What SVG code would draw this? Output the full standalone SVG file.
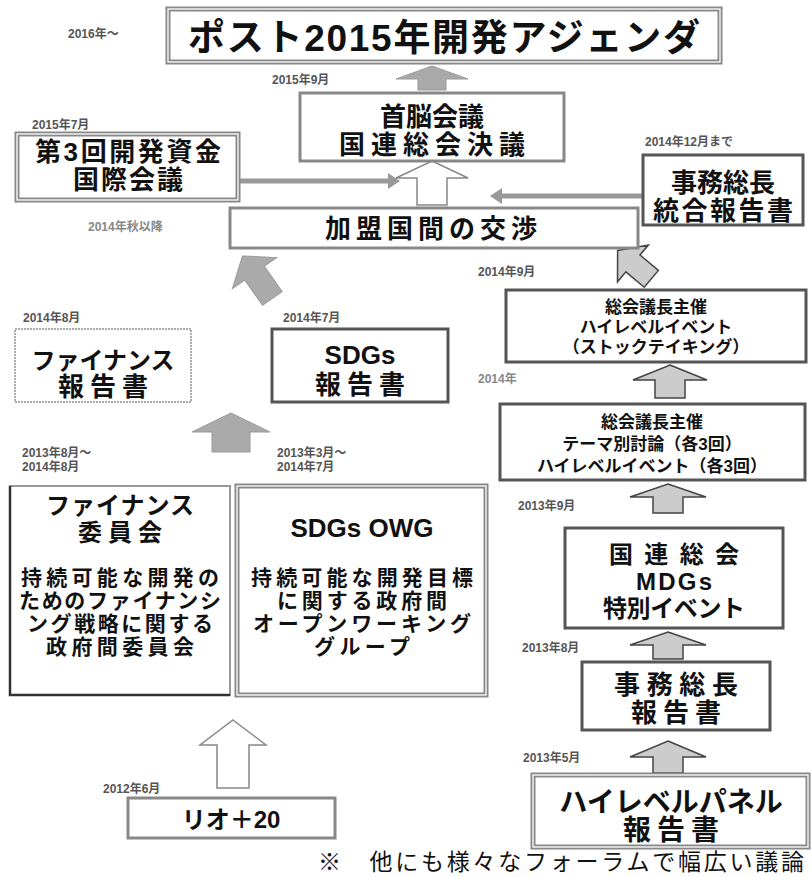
<svg xmlns="http://www.w3.org/2000/svg" width="812" height="877" viewBox="0 0 812 877">
<style>
text{font-family:"Liberation Sans","Noto Sans CJK JP",sans-serif;font-weight:bold;fill:#111;text-anchor:middle}
.d{font-size:12px;fill:#555;text-anchor:start}
.dl{font-size:12px;fill:#888;text-anchor:start}
.bx{fill:#fff;stroke:#555;stroke-width:3}
.bxg{fill:#fff;stroke:#888;stroke-width:3}
.dbl{fill:#fff;stroke:#888;stroke-width:5}
.in{fill:none;stroke:#fff;stroke-width:1.3}
.lt{fill:#fff;stroke:#aaa;stroke-width:2;stroke-dasharray:2 1}
.ga{fill:#aaa;stroke:#999;stroke-width:1}
.ra{fill:#ccc;stroke:#444;stroke-width:1.5}
.wa{fill:#fff;stroke:#888;stroke-width:1.5}
.t26{font-size:26px}
.t24{font-size:24px}
.t21{font-size:21px}
.t17{font-size:17px}
</style>
<g id="connectors">
<polygon class="ga" points="432,66 468,79 446,79 446,90 418,90 418,79 396,79"/>
<polygon class="wa" points="432,161 468,178 447,178 447,205 417,205 417,178 396,178"/>
<line x1="238" y1="181" x2="390" y2="181" stroke="#999" stroke-width="5"/>
<polygon points="400,181 388,173 388,189" fill="#999"/>
<line x1="643" y1="196" x2="500" y2="196" stroke="#999" stroke-width="5"/>
<polygon points="490,196 502,188 502,204" fill="#999"/>
<polygon class="ga" transform="translate(258,278) rotate(-35)" points="0,-27 27,-6 12,-6 12,25 -12,25 -12,-6 -27,-6"/>
<polygon class="ra" transform="translate(636,266) rotate(-50)" points="0,-24 24,-4 11,-4 11,20 -11,20 -11,-4 -24,-4"/>
<polygon class="ra" points="670,365 707,380 685,380 685,398 655,398 655,380 633,380"/>
<polygon class="ra" points="668,484 706,497 683,497 683,513 653,513 653,497 630,497"/>
<polygon class="ra" points="668,632 706,645 683,645 683,659 653,659 653,645 630,645"/>
<polygon class="ra" points="668,741 706,757 683,757 683,773 653,773 653,757 630,757"/>
<polygon class="ga" points="231,413 270,432 250,432 250,452 212,452 212,432 192,432"/>
<polygon class="wa" points="233,720 266,745 249,745 249,788 217,788 217,745 200,745"/>
</g>
<g id="labels">
<text class="d" x="68" y="38">2016年～</text>
<text class="d" x="272" y="84">2015年9月</text>
<text class="d" x="32" y="129">2015年7月</text>
<text class="d" x="645" y="146">2014年12月まで</text>
<text class="dl" x="88" y="231">2014年秋以降</text>
<text class="d" x="478" y="276">2014年9月</text>
<text class="d" x="23" y="322">2014年8月</text>
<text class="d" x="283" y="322">2014年7月</text>
<text class="dl" x="478" y="383">2014年</text>
<text class="d" x="22" y="457">2013年8月～</text>
<text class="d" x="22" y="471">2014年8月</text>
<text class="d" x="277" y="457">2013年3月～</text>
<text class="d" x="277" y="471">2014年7月</text>
<text class="d" x="518" y="510">2013年9月</text>
<text class="d" x="522" y="652">2013年8月</text>
<text class="d" x="523" y="762">2013年5月</text>
<text class="d" x="103" y="793">2012年6月</text>
<text x="318" y="870" style="font-size:23px;font-weight:normal;text-anchor:start" textLength="486" lengthAdjust="spacing">※　他にも様々なフォーラムで幅広い議論</text>
</g>
<g id="post2015">
<rect class="dbl" x="168" y="9" width="552" height="53"/>
<rect class="in" x="168" y="9" width="552" height="53"/>
<text x="444" y="51" style="font-size:37px" textLength="512" lengthAdjust="spacing">ポスト2015年開発アジェンダ</text>
</g>
<g id="summit">
<rect class="bxg" x="300" y="93" width="264" height="68"/>
<text class="t26" x="432" y="126">首脳会議</text>
<text class="t26" x="432" y="154" textLength="186" lengthAdjust="spacing">国連総会決議</text>
</g>
<g id="ffd3">
<rect class="dbl" x="17" y="134" width="221" height="66"/>
<rect class="in" x="17" y="134" width="221" height="66"/>
<text class="t26" x="128" y="161" textLength="186" lengthAdjust="spacing">第3回開発資金</text>
<text class="t26" x="128" y="189" textLength="110" lengthAdjust="spacing">国際会議</text>
</g>
<g id="sgsynthesis">
<rect class="bx" x="643" y="155" width="160" height="70"/>
<text class="t26" x="723" y="192">事務総長</text>
<text class="t26" x="723" y="220" textLength="140" lengthAdjust="spacing">統合報告書</text>
</g>
<g id="negotiation">
<rect class="bxg" x="230" y="208" width="408" height="40"/>
<text class="t26" x="431" y="238" textLength="212" lengthAdjust="spacing">加盟国間の交渉</text>
</g>
<g id="stocktaking">
<rect class="bx" x="506" y="290" width="300" height="72"/>
<text class="t17" x="656" y="313">総会議長主催</text>
<text class="t17" x="656" y="333">ハイレベルイベント</text>
<text class="t17" x="656" y="353">（ストックテイキング）</text>
</g>
<g id="finreport">
<rect class="lt" x="15" y="329" width="176" height="73"/>
<text class="t24" x="103" y="369">ファイナンス</text>
<text class="t26" x="103" y="396" textLength="90" lengthAdjust="spacing">報告書</text>
</g>
<g id="sdgreport">
<rect class="bx" x="272" y="329" width="176" height="73"/>
<text class="t26" x="360" y="364">SDGs</text>
<text class="t26" x="360" y="394" textLength="90" lengthAdjust="spacing">報告書</text>
</g>
<g id="thematic">
<rect class="bx" x="500" y="404" width="305" height="76"/>
<text class="t17" x="652" y="428">総会議長主催</text>
<text class="t17" x="652" y="450">テーマ別討論（各3回）</text>
<text class="t17" x="652" y="472">ハイレベルイベント（各3回）</text>
</g>
<g id="fincommittee">
<rect x="10" y="486" width="220" height="209" fill="#fff" stroke="#999" stroke-width="2"/>
<path d="M10,486 V695 H230" fill="none" stroke="#333" stroke-width="2.5"/>
<text class="t24" x="120" y="514" textLength="148" lengthAdjust="spacing">ファイナンス</text>
<text class="t24" x="120" y="541" textLength="84" lengthAdjust="spacing">委員会</text>
<text class="t21" x="120" y="585" textLength="198" lengthAdjust="spacing">持続可能な開発の</text>
<text class="t21" x="120" y="608" textLength="202" lengthAdjust="spacing">ためのファイナンシ</text>
<text class="t21" x="120" y="631" textLength="186" lengthAdjust="spacing">ング戦略に関する</text>
<text class="t21" x="120" y="654" textLength="148" lengthAdjust="spacing">政府間委員会</text>
</g>
<g id="owg">
<rect class="dbl" x="237" y="486" width="249" height="209"/>
<rect class="in" x="237" y="486" width="249" height="209"/>
<text class="t26" x="362" y="537">SDGs OWG</text>
<text class="t21" x="362" y="585" textLength="222" lengthAdjust="spacing">持続可能な開発目標</text>
<text class="t21" x="362" y="608" textLength="170" lengthAdjust="spacing">に関する政府間</text>
<text class="t21" x="362" y="631" textLength="218" lengthAdjust="spacing">オープンワーキング</text>
<text class="t21" x="362" y="654" textLength="96" lengthAdjust="spacing">グループ</text>
</g>
<g id="mdgs">
<rect class="bx" x="565" y="528" width="218" height="100"/>
<text class="t24" x="674" y="563" textLength="130" lengthAdjust="spacing">国連総会</text>
<text class="t24" x="674" y="590" textLength="76" lengthAdjust="spacing">MDGs</text>
<text class="t24" x="674" y="617" textLength="142" lengthAdjust="spacing">特別イベント</text>
</g>
<g id="sgreport">
<rect class="bx" x="582" y="662" width="188" height="68"/>
<text class="t26" x="676" y="694" textLength="124" lengthAdjust="spacing">事務総長</text>
<text class="t26" x="676" y="722" textLength="90" lengthAdjust="spacing">報告書</text>
</g>
<g id="hlp">
<rect class="dbl" x="533" y="775" width="275" height="72"/>
<rect class="in" x="533" y="775" width="275" height="72"/>
<text x="671" y="812" style="font-size:28px">ハイレベルパネル</text>
<text x="671" y="840" style="font-size:28px" textLength="96" lengthAdjust="spacing">報告書</text>
</g>
<g id="rio20">
<rect class="bxg" x="128" y="798" width="207" height="40"/>
<text class="t24" x="231" y="828">リオ＋20</text>
</g>
</svg>
